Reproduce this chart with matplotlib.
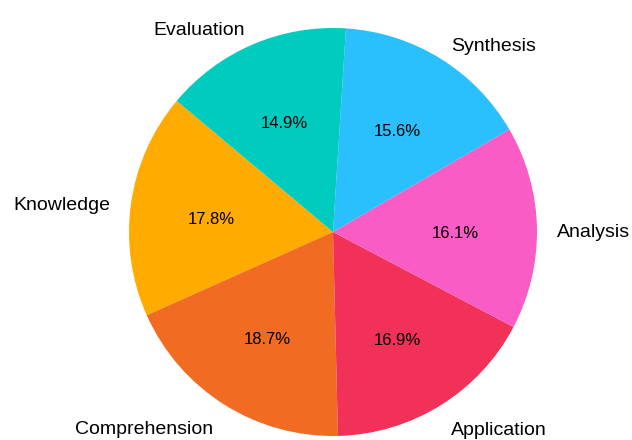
import matplotlib.pyplot as plt

# Bloom's taxonomy share per level
labels = ['Knowledge', 'Comprehension', 'Application', 'Analysis', 'Synthesis', 'Evaluation']
shares = [17.8, 18.7, 16.9, 16.1, 15.6, 14.9]
colors = ['#FFAB00', '#F26B22', '#F23158', '#F95CC4', '#2ABFFD', '#00CBBF']

plt.rcParams['font.family'] = ['Liberation Sans', 'DejaVu Sans']

fig = plt.figure(figsize=(6.32, 4.40), dpi=100)
ax = fig.add_axes([0, 0, 1, 1])

wedges, texts, autotexts = ax.pie(
    shares, labels=labels, colors=colors, autopct='%1.1f%%',
    startangle=140, counterclock=True, labeldistance=1.1, pctdistance=0.6,
    textprops={'fontsize': 14, 'color': 'black'},
)
for t in autotexts:
    t.set_fontsize(12)

# pie centre at (333, 232) px, radius 204 px
r_px = 204
ax.set_aspect('auto')
ax.set_xlim(-333 / r_px, (632 - 333) / r_px)
ax.set_ylim(-(440 - 232) / r_px, 232 / r_px)
ax.axis('off')

# text sits a few px lower than matplotlib's centring in the original
for t in texts:
    x, y = t.get_position()
    shift = 5 if y > -0.5 else 8
    t.set_position((x, y - shift / r_px))
for t in autotexts:
    x, y = t.get_position()
    t.set_position((x, y - 4 / r_px))

fig.savefig('out.png', dpi=100)
